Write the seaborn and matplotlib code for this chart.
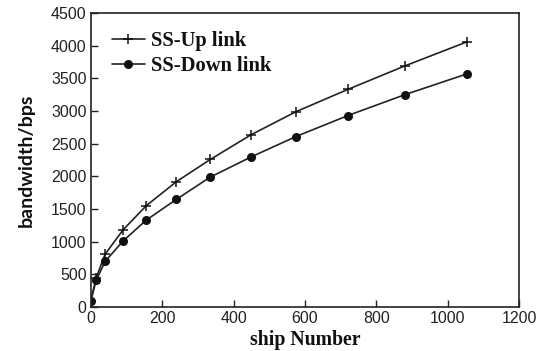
import matplotlib
matplotlib.use("Agg")
import matplotlib.pyplot as plt
import seaborn as sns
import pandas as pd

ship_number = [0, 15, 40, 90, 155, 240, 335, 450, 575, 720, 880, 1055]
up_link = [100, 450, 810, 1180, 1550, 1920, 2260, 2640, 2990, 3330, 3690, 4060]
down_link = [100, 410, 700, 1010, 1330, 1650, 1990, 2300, 2610, 2930, 3250, 3570]
series_names = ["SS-Up link", "SS-Down link"]
x_ticks = [0, 200, 400, 600, 800, 1000, 1200]
y_ticks = [0, 500, 1000, 1500, 2000, 2500, 3000, 3500, 4000, 4500]

df_up = pd.DataFrame({"ship": ship_number, "bw": up_link})
df_down = pd.DataFrame({"ship": ship_number, "bw": down_link})

sns.set_theme(style="white")
fig = plt.figure(figsize=(5.44, 3.51), dpi=100)
ax = fig.add_axes([0.167, 0.125, 0.787, 0.838])

line_color = "#222222"
sns.lineplot(data=df_up, x="ship", y="bw", label=series_names[0], color=line_color,
             marker="+", markersize=7.5, markeredgewidth=1.1, markeredgecolor="#111111",
             linewidth=1.2, ax=ax)
sns.lineplot(data=df_down, x="ship", y="bw", label=series_names[1], color=line_color,
             marker="o", markersize=6.5, markeredgewidth=0, markerfacecolor="#111111",
             linewidth=1.2, ax=ax)

ax.set_xlim(0, 1200)
ax.set_ylim(0, 4500)
ax.set_xticks(x_ticks)
ax.set_yticks(y_ticks)
ax.set_xticklabels([str(t) for t in x_ticks], family="Liberation Sans", fontsize=11.5, color="#222222")
ax.set_yticklabels([str(t) for t in y_ticks], family="Liberation Sans", fontsize=11.5, color="#222222")
ax.tick_params(direction="in", length=5, width=1, color="#222222", bottom=True, left=True,
               top=False, right=False, pad=3)
for s in ax.spines.values():
    s.set_color("#222222")
    s.set_linewidth(1.2)

ax.set_xlabel("ship Number", family="Liberation Serif", fontweight="bold", fontsize=14.2,
              color="#111111", labelpad=3)
ax.set_ylabel("bandwidth/bps", family="Lato", fontweight="bold", fontsize=14,
              color="#111111", labelpad=12)

leg = ax.legend(loc="upper left", frameon=False,
                prop={"family": "Liberation Serif", "weight": "bold", "size": 14.8},
                handlelength=1.6, handletextpad=0.3, borderaxespad=0.2, labelspacing=0.25,
                bbox_to_anchor=(0.02, 0.98))
for t in leg.get_texts():
    t.set_color("#111111")

fig.savefig("out.png", dpi=100)
